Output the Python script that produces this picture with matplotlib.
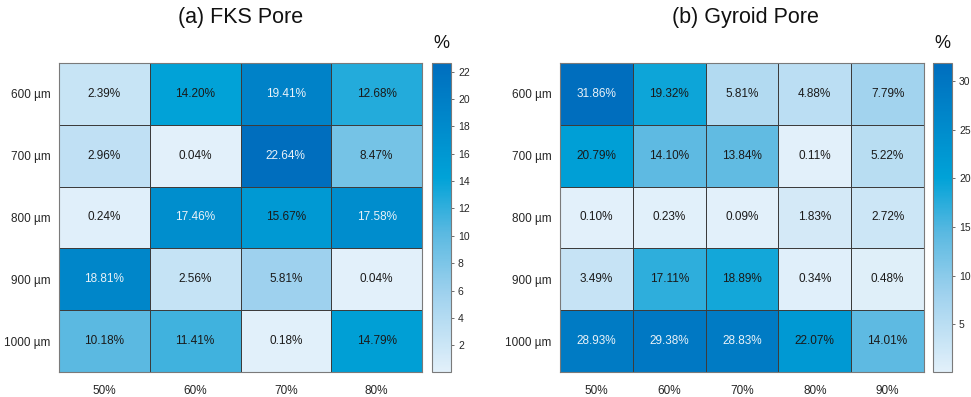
import numpy as np
import matplotlib
matplotlib.use("Agg")
import matplotlib.pyplot as plt
from matplotlib.colors import LinearSegmentedColormap, Normalize

plt.rcParams['font.family'] = ['Liberation Sans', 'DejaVu Sans']

# Pore sizes (rows) and porosities (columns)
pore_sizes = ["600 µm", "700 µm", "800 µm", "900 µm", "1000 µm"]
fks_porosity = ["50%", "60%", "70%", "80%"]
gyroid_porosity = ["50%", "60%", "70%", "80%", "90%"]

fks_values = [
    [2.39, 14.20, 19.41, 12.68],
    [2.96, 0.04, 22.64, 8.47],
    [0.24, 17.46, 15.67, 17.58],
    [18.81, 2.56, 5.81, 0.04],
    [10.18, 11.41, 0.18, 14.79],
]
gyroid_values = [
    [31.86, 19.32, 5.81, 4.88, 7.79],
    [20.79, 14.10, 13.84, 0.11, 5.22],
    [0.10, 0.23, 0.09, 1.83, 2.72],
    [3.49, 17.11, 18.89, 0.34, 0.48],
    [28.93, 29.38, 28.83, 22.07, 14.01],
]

fks_cbar_ticks = [2, 4, 6, 8, 10, 12, 14, 16, 18, 20, 22]
gyroid_cbar_ticks = [5, 10, 15, 20, 25, 30]

cmap = LinearSegmentedColormap.from_list(
    "blues_matlab",
    [(0.00, (226/255, 240/255, 250/255)),
     (0.25, (160/255, 210/255, 238/255)),
     (0.45, (90/255, 185/255, 225/255)),
     (0.63, (0/255, 162/255, 215/255)),
     (1.00, (0/255, 110/255, 190/255))],
)

W, H = 971, 397
fig = plt.figure(figsize=(W / 100, H / 100), dpi=100)


def px_axes(x0, x1, y0, y1):
    return fig.add_axes([x0 / W, 1 - y1 / H, (x1 - x0) / W, (y1 - y0) / H])


def heatmap(ax, cax, data, rows, cols, ticks, title, cx_title, cx_pct):
    data = np.asarray(data)
    norm = Normalize(vmin=data.min(), vmax=data.max())
    nr, nc = data.shape
    mesh = ax.pcolormesh(np.arange(nc + 1), np.arange(nr + 1), data,
                         cmap=cmap, norm=norm, edgecolors="#3c3c3c",
                         linewidth=0.7)
    ax.set_xlim(0, nc)
    ax.set_ylim(nr, 0)
    ax.set_xticks(np.arange(nc) + 0.5)
    ax.set_xticklabels(cols, fontsize=8.5, color="#262626")
    ax.set_yticks(np.arange(nr) + 0.5)
    ax.set_yticklabels(rows, fontsize=8.5, color="#262626")
    ax.tick_params(length=0, pad=6)
    ax.tick_params(axis="x", pad=9)
    for s in ax.spines.values():
        s.set_color("#7a7a7a")
        s.set_linewidth(0.8)
    for i in range(nr):
        for j in range(nc):
            v = data[i, j]
            col = "#eaf2f8" if norm(v) > 0.73 else "#1a1a1a"
            ax.text(j + 0.5, i + 0.5, f"{v:.2f}%", ha="center", va="center",
                    fontsize=8.5, color=col)

    cb = fig.colorbar(mesh, cax=cax)
    cb.set_ticks(ticks)
    cb.ax.tick_params(labelsize=7.5, length=2, width=0.6, color="#555555",
                      labelcolor="#262626", pad=3)
    cb.outline.set_edgecolor("#7a7a7a")
    cb.outline.set_linewidth(0.8)

    fig.text(cx_title / W, 1 - 17 / H, title, ha="center", va="center",
             fontsize=15.5, color="#111111")
    fig.text(cx_pct / W, 1 - 43 / H, "%", ha="center", va="center",
             fontsize=13, color="#111111")


ax1 = px_axes(59, 422, 63, 372)
cax1 = px_axes(432, 451, 63, 372)
heatmap(ax1, cax1, fks_values, pore_sizes, fks_porosity, fks_cbar_ticks,
        "(a) FKS Pore", 241, 441)

ax2 = px_axes(560, 924, 63, 372)
cax2 = px_axes(933, 952, 63, 372)
heatmap(ax2, cax2, gyroid_values, pore_sizes, gyroid_porosity, gyroid_cbar_ticks,
        "(b) Gyroid Pore", 745, 942)

fig.savefig("out.png", dpi=100, facecolor="white")
